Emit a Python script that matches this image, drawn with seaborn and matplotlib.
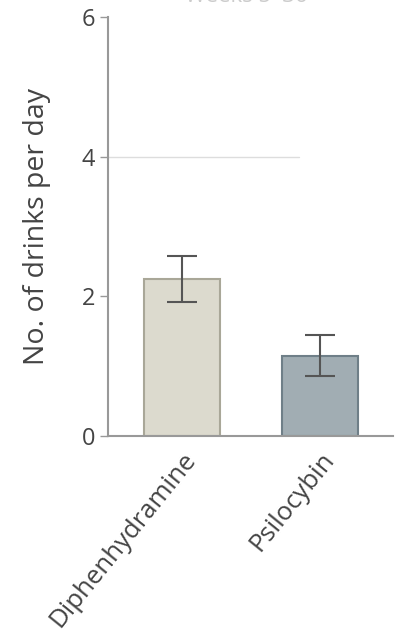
import matplotlib
matplotlib.use("Agg")
import matplotlib.pyplot as plt
import seaborn as sns
import pandas as pd

groups = ["Diphenhydramine", "Psilocybin"]
means = [2.25, 1.15]
errors = [0.33, 0.29]
y_ticks = [0, 2, 4, 6]
y_label = "No. of drinks per day"
title = "Weeks 5–36"

sns.set_theme(style="white")
plt.rcParams['font.family'] = ['Open Sans', 'DejaVu Sans']

df = pd.DataFrame({"group": groups, "mean": means, "err": errors})

fig = plt.figure(figsize=(3.98, 6.41), dpi=100)
ax = fig.add_axes([0.271, 0.32, 0.716, 0.6535])

fills = ["#dedbcc", "#9eaeb6"]
edges = ["#a9a798", "#6f7f88"]
sns.barplot(data=df, x="group", y="mean", hue="group", palette=fills,
            width=0.55, legend=False, errorbar=None, ax=ax)
for patch, ec in zip(ax.patches, edges):
    patch.set_edgecolor(ec)
    patch.set_linewidth(1.5)
ax.errorbar(x=range(len(groups)), y=df["mean"], yerr=df["err"], fmt="none",
            ecolor="#555555", elinewidth=1.5, capsize=11, capthick=1.5)

ax.set_ylim(0, 6)
ax.set_xlim(-0.54, 1.53)
ax.set_yticks(y_ticks)
ax.set_yticklabels([str(t) for t in y_ticks])
ax.set_xlabel("")
ax.set_ylabel(y_label, fontsize=20.5, color="#444444", labelpad=22)
ax.tick_params(axis="y", left=True, length=6, width=1, color="#999999",
               labelsize=17, labelcolor="#444444", pad=3)
ax.tick_params(axis="x", bottom=False, labelsize=18.5, labelcolor="#444444", pad=2)
plt.setp(ax.get_xticklabels(), rotation=51, ha="right", rotation_mode="anchor")
for s in ["top", "right"]:
    ax.spines[s].set_visible(False)
for s in ["left", "bottom"]:
    ax.spines[s].set_color("#999999")
    ax.spines[s].set_linewidth(1.5)
ax.axhline(4, xmin=0.0, xmax=0.67, color="#dddddd", lw=1, zorder=0)

fig.text(0.62, 1 - 1.5 / 641, title, ha="center", va="baseline",
         fontsize=16, color="#cccccc")

fig.savefig("out.png", dpi=100)
